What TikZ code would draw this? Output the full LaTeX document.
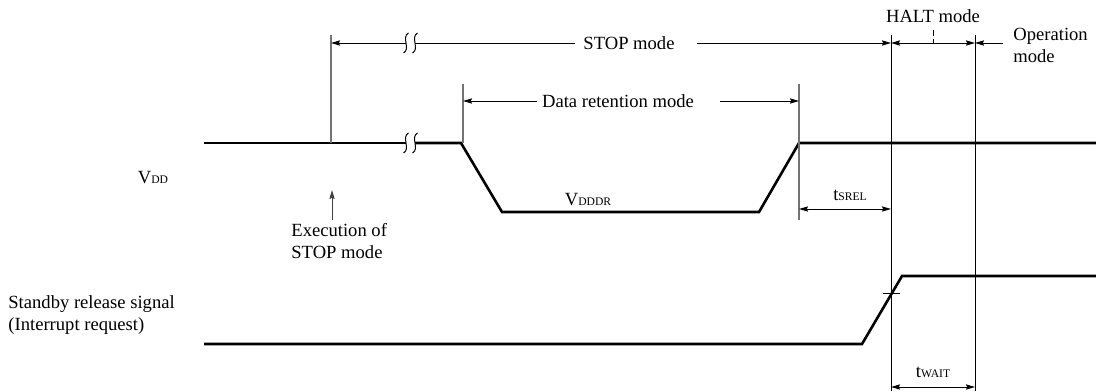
\documentclass[tikz,border=0pt]{standalone}
\usepackage{fontspec}
\setmainfont{Liberation Serif}
\usetikzlibrary{arrows.meta,calc}
\newcommand{\lowcaps}[1]{{\fontsize{5.8}{7}\selectfont #1}}
\newcommand{\gapmark}[1]{\draw[brk] ($(#1)+(2.5,-10)$) .. controls ($(#1)+(-5,-6)$) and ($(#1)+(5,6)$) .. ($(#1)+(-2.5,10)$);}

\begin{document}
\begin{tikzpicture}[
  x=0.5pt, y=-0.5pt,
  every node/.style={font=\fontsize{9.3}{11}\selectfont, inner sep=0pt, align=left},
  sig/.style={line width=1.3pt},
  dimline/.style={line width=0.5pt},
  guide/.style={line width=0.6pt, draw=black!55},
  brk/.style={line width=0.5pt},
  tip/.tip={Stealth[length=4.5pt, width=2.6pt, inset=0.6pt]},
  arr/.style={-tip, dimline},
  darr/.style={tip-tip, dimline}
]
\useasboundingbox (0,0) rectangle (1096,391);

% signal corners
\coordinate (vddL) at (204,143);
\coordinate (vddB1) at (406,143);
\coordinate (vddB2) at (415,143);
\coordinate (fallT) at (461,143);
\coordinate (fallB) at (502,212);
\coordinate (riseB) at (759,212);
\coordinate (riseT) at (799,143);
\coordinate (vddR) at (1096,143);
\coordinate (srsL) at (204,344);
\coordinate (srsB) at (862,344);
\coordinate (srsT) at (902,276);
\coordinate (srsR) at (1096,276);

% guide lines
\coordinate (gExecT) at (331,35);   \coordinate (gExecB) at (331,143);
\coordinate (gRetT) at (463,84);    \coordinate (gRetB) at (463,143);
\coordinate (gRecT) at (799,84);    \coordinate (gRecB) at (799,220);
\coordinate (gHaltT) at (891,35);   \coordinate (gHaltB) at (891,391);
\coordinate (gOpT) at (975,35);     \coordinate (gOpB) at (975,391);

\draw[sig] (vddL) -- (vddB1);
\draw[sig] (vddB2) -- (fallT) -- (fallB) -- (riseB) -- (riseT) -- (vddR);
\draw[sig] (srsL) -- (srsB) -- (srsT) -- (srsR);

\draw[guide] (gExecT) -- (gExecB);
\draw[guide] (gRetT) -- (gRetB);
\draw[guide] (gRecT) -- (gRecB);
\draw[dimline] (gHaltT) -- (gHaltB);
\draw[dimline] (gOpT) -- (gOpB);

% STOP mode
\node (stopTxt) at (629,43) {STOP mode};
\coordinate (stopL) at (331,43);
\coordinate (stopB1) at (406,43);
\coordinate (stopB2) at (415,43);
\coordinate (stopA) at (575,43);
\coordinate (stopC) at (697,43);
\coordinate (haltL) at (891,43);
\draw[arr] (stopB1) -- (stopL);
\draw[dimline] (stopA) -- (stopB2);
\draw[arr] (stopC) -- (haltL);
\gapmark{stopB1} \gapmark{stopB2}
\gapmark{vddB1} \gapmark{vddB2}

% HALT mode / operation mode
\node (haltTxt) at (933,16) {HALT mode};
\coordinate (haltR) at (975,43);
\coordinate (haltMidT) at (933,30);
\coordinate (haltMidB) at (933,43);
\draw[darr] (haltL) -- (haltR);
\draw[dimline, dash pattern=on 3pt off 1.5pt] (haltMidT) -- (haltMidB);
\node[anchor=west] (opTxt) at (1013,45) {Operation\\mode};
\coordinate (opA) at (1003,43);
\draw[arr] (opA) -- (haltR);

% data retention
\node (retTxt) at (618,101) {Data retention mode};
\coordinate (retA) at (537,101);
\coordinate (retL) at (463,101);
\coordinate (retC) at (720,101);
\coordinate (retR) at (799,101);
\draw[arr] (retA) -- (retL);
\draw[arr] (retC) -- (retR);

% timing
\coordinate (srelL) at (799,209);
\coordinate (srelR) at (891,209);
\draw[darr] (srelL) -- (srelR);
\node (srelTxt) at (850,195) {t\lowcaps{SREL}};
\coordinate (waitL) at (891,387);
\coordinate (waitR) at (975,387);
\draw[darr] (waitL) -- (waitR);
\node (waitTxt) at (933,372) {t\lowcaps{WAIT}};
\coordinate (tickL) at (883,293);
\coordinate (tickR) at (900,293);
\draw[dimline] (tickL) -- (tickR);

% labels
\node (vddTxt) at (153,178) {V\lowcaps{DD}};
\node (vddrTxt) at (588,200) {V\lowcaps{DDDR}};
\node[anchor=north west] (execTxt) at (291,223) {Execution of\\STOP mode};
\coordinate (execA) at (332,220);
\coordinate (execT) at (332,190);
\draw[arr, draw=black!75, fill=black!75] (execA) -- (execT);
\node[anchor=west] (srsTxt) at (8,315) {Standby release signal\\(Interrupt request)};
\end{tikzpicture}
\end{document}
